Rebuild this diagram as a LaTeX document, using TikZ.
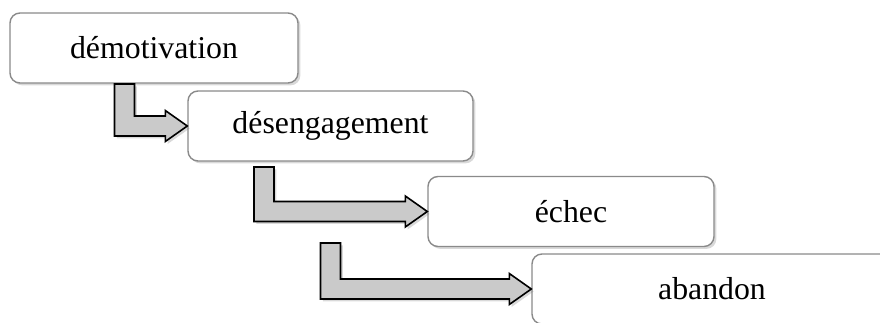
\documentclass[tikz,border=0pt]{standalone}
\usepackage{fontspec}
\setmainfont{Liberation Serif}
\usetikzlibrary{calc}
\usetikzlibrary{shadows}

\definecolor{boxline}{HTML}{8A8A8A}
\definecolor{arrowfill}{HTML}{CACACA}

\begin{document}
\begin{tikzpicture}[x=0.5pt, y=-0.5pt, line join=miter,
    stage/.style={draw=boxline, line width=0.7pt, fill=white, rounded corners=5pt,
        minimum height=35pt, inner sep=0pt,
        font=\fontsize{15.9}{19}\selectfont,
        drop shadow={opacity=0.3, shadow xshift=1.2pt, shadow yshift=-1.2pt}},
    bentarrow/.style={draw=black, line width=0.8pt, fill=arrowfill,
        drop shadow={opacity=0.3, shadow xshift=1.2pt, shadow yshift=-1.2pt}}]

    \useasboundingbox (0,0) rectangle (880,322);

    \node[stage, minimum width=144pt] (demo) at (154, 48) {démotivation};
    \node[stage, minimum width=142.5pt] (deseng) at (330.5, 126) {désengagement};
    \node[stage, minimum width=143pt] (echec) at (571, 211.5) {échec};
    \node[stage, minimum width=180pt] (aband) at (712, 289) {abandon};

    % stem tops of the bent arrows
    \coordinate (s1) at (124.5, 84);
    \coordinate (s2) at (264, 167);
    \coordinate (s3) at (330.5, 243);

    \foreach \s/\t in {s1/deseng, s2/echec, s3/aband}{
        \draw[bentarrow] let \p1=(\s), \p2=(\t.west) in
            (\x1-5pt, \y1) -- (\x1+5pt, \y1) -- (\x1+5pt, \y2+5pt)
            -- (\x2-11pt, \y2+5pt) -- (\x2-11pt, \y2+7.75pt) -- (\p2)
            -- (\x2-11pt, \y2-7.75pt) -- (\x2-11pt, \y2-5pt)
            -- (\x1-5pt, \y2-5pt) -- cycle;
    }

\end{tikzpicture}
\end{document}
